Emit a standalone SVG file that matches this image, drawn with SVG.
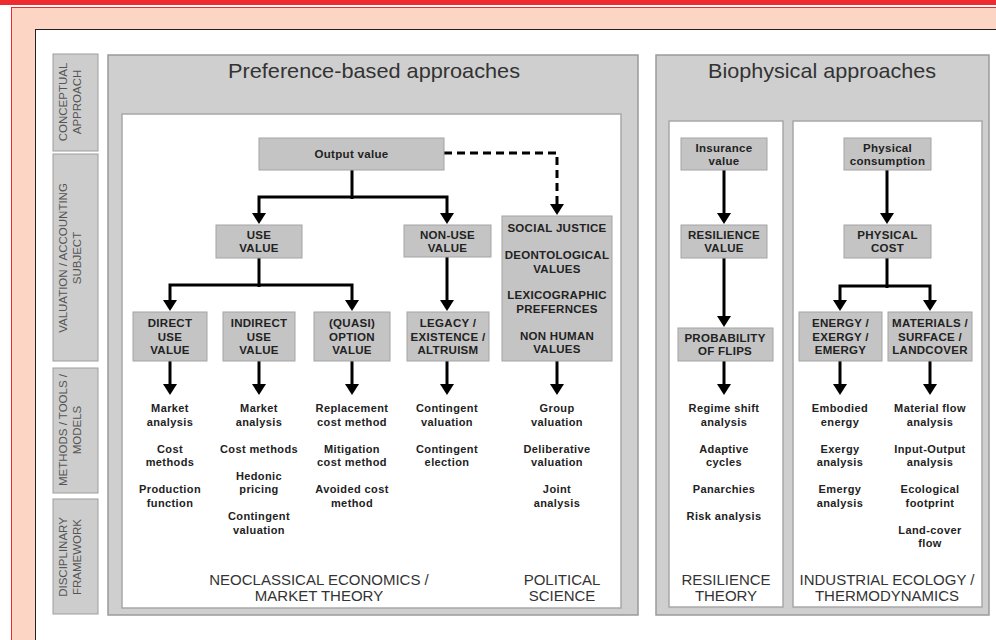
<svg xmlns="http://www.w3.org/2000/svg" width="996" height="640" viewBox="0 0 996 640">
<defs>
<marker id="ah" viewBox="0 0 11 14" refX="5" refY="7" markerWidth="11" markerHeight="14" markerUnits="userSpaceOnUse" orient="auto-start-reverse"><path d="M0,0 L11,7 L0,14 z" fill="#000"/></marker>
<style>
text{font-family:"Liberation Sans",Arial,sans-serif}
.tab{fill:#cdcdcd;stroke:#9d9d9d;stroke-width:1}
.tabt{font-size:11.5px;fill:#555;text-anchor:middle}
.panel{fill:#cfcfcf;stroke:#9a9a9a;stroke-width:1.5}
.inner{fill:#fff;stroke:#a8a8a8;stroke-width:1.5}
.title{font-size:21px;fill:#333;text-anchor:middle}
.box{fill:#c4c4c4;stroke:#a4a4a4;stroke-width:1}
.bt{font-size:11.5px;font-weight:bold;fill:#222;text-anchor:middle;letter-spacing:0.3px}
.mt{font-size:11px;font-weight:bold;fill:#222;text-anchor:middle;letter-spacing:0.4px}
.ft{font-size:15px;fill:#333;text-anchor:middle}
.c{fill:none;stroke:#000;stroke-width:3;marker-end:url(#ah)}
.c2{fill:none;stroke:#000;stroke-width:3;marker-start:url(#ah);marker-end:url(#ah)}
.cs{fill:none;stroke:#000;stroke-width:3}
.dash{stroke-dasharray:8 5}
</style>
</defs>
<rect x="0" y="0" width="996" height="640" fill="#fff"/>
<rect x="0" y="0" width="996" height="5" fill="#ee2b2f"/>
<rect x="11.5" y="7.5" width="990" height="640" fill="#fdd5c4" stroke="#ee2b2f" stroke-width="1"/>
<rect x="35.5" y="29.5" width="970" height="620" fill="#fff" stroke="#222" stroke-width="1"/>

<g id="tabs">
<rect class="tab" x="53" y="54" width="45" height="97"/>
<text class="tabt" transform="translate(67,102) rotate(-90)">CONCEPTUAL</text>
<text class="tabt" transform="translate(81,102) rotate(-90)">APPROACH</text>
<rect class="tab" x="53" y="154" width="45" height="207"/>
<text class="tabt" transform="translate(67,258) rotate(-90)">VALUATION / ACCOUNTING</text>
<text class="tabt" transform="translate(81,258) rotate(-90)">SUBJECT</text>
<rect class="tab" x="53" y="368" width="45" height="125"/>
<text class="tabt" transform="translate(67,430) rotate(-90)">METHODS / TOOLS /</text>
<text class="tabt" transform="translate(81,430) rotate(-90)">MODELS</text>
<rect class="tab" x="53" y="499" width="45" height="115"/>
<text class="tabt" transform="translate(67,557) rotate(-90)">DISCIPLINARY</text>
<text class="tabt" transform="translate(81,557) rotate(-90)">FRAMEWORK</text>
</g>

<g id="panels">
<rect class="panel" x="108" y="55" width="530" height="560"/>
<rect class="inner" x="122" y="114" width="499" height="494"/>
<text class="title" x="374" y="78" textLength="292" lengthAdjust="spacingAndGlyphs">Preference-based approaches</text>
<rect class="panel" x="656" y="55" width="333" height="560"/>
<rect class="inner" x="669" y="121" width="114" height="486"/>
<rect class="inner" x="793" y="121" width="189" height="486"/>
<text class="title" x="822" y="78" textLength="228" lengthAdjust="spacingAndGlyphs">Biophysical approaches</text>
</g>

<g id="connectors">
<path class="cs" d="M352,170 V199"/>
<path class="c2" d="M259,218 V197 H447 V218"/>
<path class="c dash" d="M444,153 H557 V209"/>
<path class="cs" d="M259,258 V287"/>
<path class="c2" d="M170,305 V285 H352 V305"/>
<path class="c" d="M447,257 V305"/>
<path class="c" d="M170,361 V389"/>
<path class="c" d="M259,361 V389"/>
<path class="c" d="M352,361 V389"/>
<path class="c" d="M447,361 V389"/>
<path class="c" d="M557,361 V389"/>
<path class="c" d="M724,170 V218"/>
<path class="c" d="M724,258 V321"/>
<path class="c" d="M724,361 V389"/>
<path class="c" d="M887,170 V218"/>
<path class="cs" d="M887,258 V288"/>
<path class="c2" d="M840,305 V286 H930 V305"/>
<path class="c" d="M840,361 V389"/>
<path class="c" d="M930,361 V389"/>
</g>

<g id="output-value">
<rect class="box" x="259" y="138" width="185" height="32"/>
<text class="bt" x="351.5" y="158">Output value</text>
</g>
<g id="use-value">
<rect class="box" x="216" y="225" width="86" height="33"/>
<text class="bt" x="259" y="239">USE</text>
<text class="bt" x="259" y="252">VALUE</text>
</g>
<g id="non-use-value">
<rect class="box" x="404" y="225" width="87" height="32"/>
<text class="bt" x="447.5" y="239">NON-USE</text>
<text class="bt" x="447.5" y="252">VALUE</text>
</g>
<g id="social-justice">
<rect class="box" x="502" y="216" width="110" height="145"/>
<text class="bt" x="557" y="232">SOCIAL JUSTICE</text>
<text class="bt" x="557" y="259">DEONTOLOGICAL</text>
<text class="bt" x="557" y="272.5">VALUES</text>
<text class="bt" x="557" y="299">LEXICOGRAPHIC</text>
<text class="bt" x="557" y="312.5">PREFERNCES</text>
<text class="bt" x="557" y="339.5">NON HUMAN</text>
<text class="bt" x="557" y="353">VALUES</text>
</g>
<g id="direct-use-value">
<rect class="box" x="133" y="312" width="74" height="49"/>
<text class="bt" x="170" y="327">DIRECT</text>
<text class="bt" x="170" y="340.5">USE</text>
<text class="bt" x="170" y="354">VALUE</text>
</g>
<g id="indirect-use-value">
<rect class="box" x="223" y="312" width="72" height="49"/>
<text class="bt" x="259" y="327">INDIRECT</text>
<text class="bt" x="259" y="340.5">USE</text>
<text class="bt" x="259" y="354">VALUE</text>
</g>
<g id="quasi-option-value">
<rect class="box" x="314" y="312" width="76" height="49"/>
<text class="bt" x="352" y="327">(QUASI)</text>
<text class="bt" x="352" y="340.5">OPTION</text>
<text class="bt" x="352" y="354">VALUE</text>
</g>
<g id="legacy">
<rect class="box" x="407" y="312" width="82" height="49"/>
<text class="bt" x="448" y="327">LEGACY /</text>
<text class="bt" x="448" y="340.5">EXISTENCE /</text>
<text class="bt" x="448" y="354">ALTRUISM</text>
</g>

<g id="methods-direct">
<text class="mt" x="170" y="412">Market</text>
<text class="mt" x="170" y="425.5">analysis</text>
<text class="mt" x="170" y="452.5">Cost</text>
<text class="mt" x="170" y="466">methods</text>
<text class="mt" x="170" y="493">Production</text>
<text class="mt" x="170" y="506.5">function</text>
</g>
<g id="methods-indirect">
<text class="mt" x="259" y="412">Market</text>
<text class="mt" x="259" y="425.5">analysis</text>
<text class="mt" x="259" y="452.5">Cost methods</text>
<text class="mt" x="259" y="479.5">Hedonic</text>
<text class="mt" x="259" y="493">pricing</text>
<text class="mt" x="259" y="520">Contingent</text>
<text class="mt" x="259" y="533.5">valuation</text>
</g>
<g id="methods-quasi">
<text class="mt" x="352" y="412">Replacement</text>
<text class="mt" x="352" y="425.5">cost method</text>
<text class="mt" x="352" y="452.5">Mitigation</text>
<text class="mt" x="352" y="466">cost method</text>
<text class="mt" x="352" y="493">Avoided cost</text>
<text class="mt" x="352" y="506.5">method</text>
</g>
<g id="methods-legacy">
<text class="mt" x="447" y="412">Contingent</text>
<text class="mt" x="447" y="425.5">valuation</text>
<text class="mt" x="447" y="452.5">Contingent</text>
<text class="mt" x="447" y="466">election</text>
</g>
<g id="methods-political">
<text class="mt" x="557" y="412">Group</text>
<text class="mt" x="557" y="425.5">valuation</text>
<text class="mt" x="557" y="452.5">Deliberative</text>
<text class="mt" x="557" y="466">valuation</text>
<text class="mt" x="557" y="493">Joint</text>
<text class="mt" x="557" y="506.5">analysis</text>
</g>
<g id="framework-neoclassical">
<text class="ft" x="319" y="585">NEOCLASSICAL ECONOMICS /</text>
<text class="ft" x="319" y="601">MARKET THEORY</text>
</g>
<g id="framework-political">
<text class="ft" x="562" y="585">POLITICAL</text>
<text class="ft" x="562" y="601">SCIENCE</text>
</g>

<g id="insurance-value">
<rect class="box" x="681" y="138" width="86" height="32"/>
<text class="bt" x="724" y="152">Insurance</text>
<text class="bt" x="724" y="165">value</text>
</g>
<g id="resilience-value">
<rect class="box" x="681" y="225" width="86" height="33"/>
<text class="bt" x="724" y="239">RESILIENCE</text>
<text class="bt" x="724" y="252">VALUE</text>
</g>
<g id="probability-of-flips">
<rect class="box" x="678" y="328" width="95" height="33"/>
<text class="bt" x="725" y="342">PROBABILITY</text>
<text class="bt" x="725" y="355">OF FLIPS</text>
</g>
<g id="physical-consumption">
<rect class="box" x="844" y="138" width="87" height="32"/>
<text class="bt" x="887.5" y="152">Physical</text>
<text class="bt" x="887.5" y="165">consumption</text>
</g>
<g id="physical-cost">
<rect class="box" x="844" y="225" width="87" height="33"/>
<text class="bt" x="887.5" y="239">PHYSICAL</text>
<text class="bt" x="887.5" y="252">COST</text>
</g>
<g id="energy">
<rect class="box" x="799" y="312" width="83" height="49"/>
<text class="bt" x="840.5" y="327">ENERGY /</text>
<text class="bt" x="840.5" y="340.5">EXERGY /</text>
<text class="bt" x="840.5" y="354">EMERGY</text>
</g>
<g id="materials">
<rect class="box" x="888" y="312" width="84" height="49"/>
<text class="bt" x="930" y="327">MATERIALS /</text>
<text class="bt" x="930" y="340.5">SURFACE /</text>
<text class="bt" x="930" y="354">LANDCOVER</text>
</g>

<g id="methods-resilience">
<text class="mt" x="724" y="412">Regime shift</text>
<text class="mt" x="724" y="425.5">analysis</text>
<text class="mt" x="724" y="452.5">Adaptive</text>
<text class="mt" x="724" y="466">cycles</text>
<text class="mt" x="724" y="493">Panarchies</text>
<text class="mt" x="724" y="520">Risk analysis</text>
</g>
<g id="methods-energy">
<text class="mt" x="840" y="412">Embodied</text>
<text class="mt" x="840" y="425.5">energy</text>
<text class="mt" x="840" y="452.5">Exergy</text>
<text class="mt" x="840" y="466">analysis</text>
<text class="mt" x="840" y="493">Emergy</text>
<text class="mt" x="840" y="506.5">analysis</text>
</g>
<g id="methods-materials">
<text class="mt" x="930" y="412">Material flow</text>
<text class="mt" x="930" y="425.5">analysis</text>
<text class="mt" x="930" y="452.5">Input-Output</text>
<text class="mt" x="930" y="466">analysis</text>
<text class="mt" x="930" y="493">Ecological</text>
<text class="mt" x="930" y="506.5">footprint</text>
<text class="mt" x="930" y="533.5">Land-cover</text>
<text class="mt" x="930" y="547">flow</text>
</g>
<g id="framework-resilience">
<text class="ft" x="726" y="585">RESILIENCE</text>
<text class="ft" x="726" y="601">THEORY</text>
</g>
<g id="framework-industrial">
<text class="ft" x="887" y="585">INDUSTRIAL ECOLOGY /</text>
<text class="ft" x="887" y="601">THERMODYNAMICS</text>
</g>
</svg>
